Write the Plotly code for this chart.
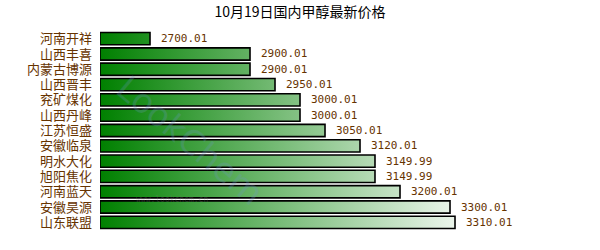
import plotly.graph_objects as go

categories = ["河南开祥", "山西丰喜", "内蒙古博源", "山西晋丰", "兖矿煤化", "山西丹峰", "江苏恒盛",
              "安徽临泉", "明水大化", "旭阳焦化", "河南蓝天", "安徽昊源", "山东联盟"]
values = [2700.01, 2900.01, 2900.01, 2950.01, 3000.01, 3000.01, 3050.01,
          3120.01, 3149.99, 3149.99, 3200.01, 3300.01, 3310.01]
value_labels = ["2700.01", "2900.01", "2900.01", "2950.01", "3000.01", "3000.01", "3050.01",
                "3120.01", "3149.99", "3149.99", "3200.01", "3300.01", "3310.01"]
title_text = "10月19日国内甲醇最新价格"

BASE = 2600
HALF = 0.4
BROWN = "#663300"

fig = go.Figure()
for i, v in enumerate(values):
    fig.add_trace(go.Scatter(
        x=[BASE, v, v, BASE, BASE],
        y=[i - HALF, i - HALF, i + HALF, i + HALF, i - HALF],
        mode="lines",
        fill="toself",
        fillgradient=dict(type="horizontal", start=BASE, stop=3370,
                          colorscale=[[0, "rgb(0,128,0)"], [1, "rgb(255,255,255)"]]),
        line=dict(color="black", width=1.6),
        hoverinfo="skip",
        showlegend=False,
    ))
    fig.add_annotation(x=v, y=i, text=value_labels[i], showarrow=False,
                       xanchor="left", yanchor="middle", xshift=9,
                       font=dict(family="DejaVu Sans Mono", size=11, color=BROWN))

# watermark
fig.add_annotation(xref="paper", yref="paper", x=(190 - 100) / 500, y=1 - (140 - 31) / 199,
                   xanchor="center", yanchor="middle",
                   text="LookChem", showarrow=False, textangle=40,
                   font=dict(family="DejaVu Sans", size=34, color="rgba(110,150,200,0.25)"))
fig.add_annotation(xref="paper", yref="paper", x=(172 - 100) / 500, y=1 - (199 - 31) / 199,
                   xanchor="center", yanchor="middle",
                   text="www.lookchem.cn", showarrow=False,
                   font=dict(family="DejaVu Sans Mono", size=8, color="rgba(120,120,120,0.3)"))

fig.update_layout(
    width=600, height=250,
    margin=dict(l=100, r=0, t=31, b=20),
    paper_bgcolor="white", plot_bgcolor="white",
    title=dict(text=title_text, x=0.5, xref="container", xanchor="center",
               y=1 - 12 / 250, yref="container", yanchor="middle",
               font=dict(family="Noto Sans CJK SC", size=14, color="black")),
    xaxis=dict(range=[BASE, 3600], visible=False, fixedrange=True),
    yaxis=dict(range=[len(categories) - 0.5, -0.5], tickmode="array",
               tickvals=list(range(len(categories))), ticktext=categories,
               showgrid=False, zeroline=False, showline=False, ticks="",
               ticklabelstandoff=7,
               tickfont=dict(family="DejaVu Sans, Noto Sans CJK SC", size=13, color=BROWN)),
)

fig.write_html("out.html")
